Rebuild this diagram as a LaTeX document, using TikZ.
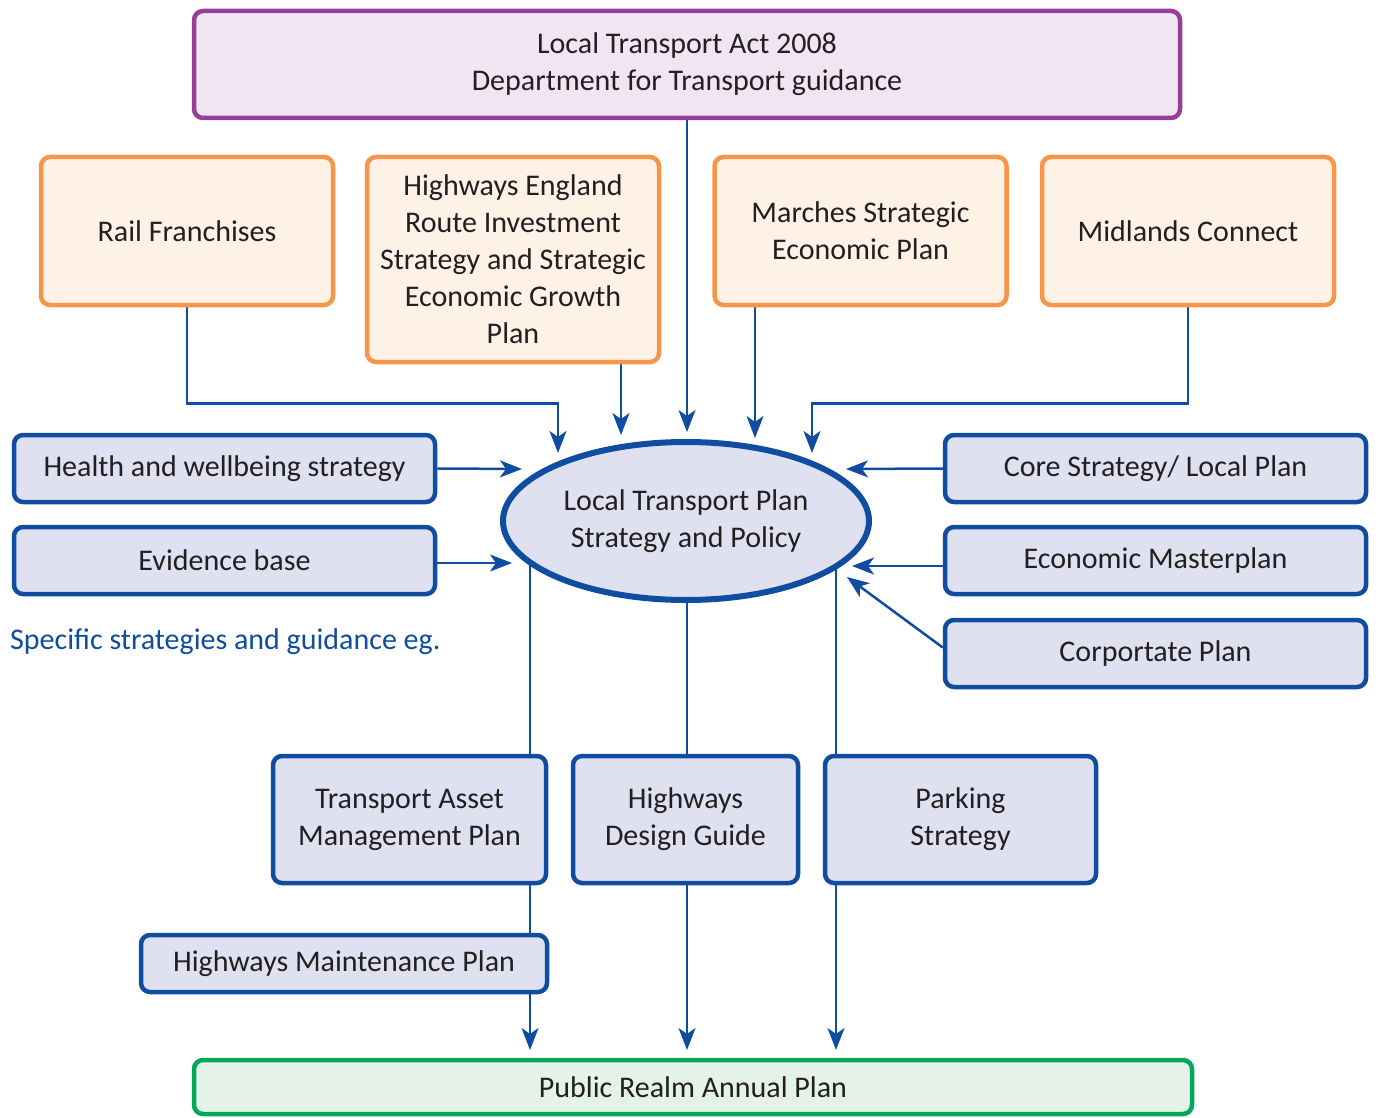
\documentclass[tikz,border=0pt]{standalone}
\usepackage{fontspec}
\setmainfont{Carlito}
\usetikzlibrary{arrows.meta,backgrounds,shapes.geometric}
\definecolor{dblue}{HTML}{104C9F}
\definecolor{bfill}{HTML}{DFE1F1}
\definecolor{ostroke}{HTML}{F7964A}
\definecolor{ofill}{HTML}{FEF1E6}
\definecolor{pstroke}{HTML}{983E96}
\definecolor{pfill}{HTML}{F0E5F2}
\definecolor{gstroke}{HTML}{00A859}
\definecolor{gfill}{HTML}{E4F2EA}
\definecolor{txt}{HTML}{231F20}
\begin{document}
\begin{tikzpicture}[x=1pt,y=-1pt,
  every node/.style={font=\fontsize{30}{37}\selectfont, text=txt, align=center, inner sep=0pt},
  bluebox/.style={draw=dblue, fill=bfill, line width=4.5pt, rounded corners=9pt},
  orangebox/.style={draw=ostroke, fill=ofill, line width=4.5pt, rounded corners=9pt, minimum width=292pt},
  conn/.style={draw=dblue, line width=2.5pt},
  arr/.style={conn, -{Stealth[length=22pt,width=17pt,inset=6pt]}}]
\useasboundingbox (0,0) rectangle (1378,1118);

\node[draw=pstroke, fill=pfill, line width=4.5pt, rounded corners=9pt, minimum width=986pt, minimum height=107pt] (act) at (687,64.5) {Local Transport Act 2008\\Department for Transport guidance};

\node[orangebox, minimum height=148pt] (rail) at (187,231) {Rail Franchises};
\node[orangebox, minimum height=205pt] (he) at (513,259.5) {Highways England\\Route Investment\\Strategy and Strategic\\Economic Growth\\Plan};
\node[orangebox, minimum height=148pt] (marches) at (860.5,231) {Marches Strategic\\Economic Plan};
\node[orangebox, minimum height=148pt] (midl) at (1188,231) {Midlands Connect};

\node[draw=dblue, fill=bfill, line width=6pt, ellipse, minimum width=366pt, minimum height=158pt] (ltp) at (686,521) {Local Transport Plan\\Strategy and Policy};

\node[bluebox, minimum width=421pt, minimum height=67pt] (health) at (224.5,468.5) {Health and wellbeing strategy};
\node[bluebox, minimum width=421pt, minimum height=67pt] (evid) at (224.5,560.5) {Evidence base};
\node[anchor=west, text=dblue] (spec) at (10,642) {Specific strategies and guidance eg.};

\node[bluebox, minimum width=421pt, minimum height=67pt] (core) at (1155.5,468.5) {Core Strategy/ Local Plan};
\node[bluebox, minimum width=421pt, minimum height=67pt] (econ) at (1155.5,560.5) {Economic Masterplan};
\node[bluebox, minimum width=421pt, minimum height=67pt] (corp) at (1155.5,653.5) {Corportate Plan};

\node[bluebox, minimum width=273pt, minimum height=127pt] (tamp) at (409.5,819.5) {Transport Asset\\Management Plan};
\node[bluebox, minimum width=225pt, minimum height=127pt] (hdg) at (685.5,819.5) {Highways\\Design Guide};
\node[bluebox, minimum width=271pt, minimum height=127pt] (park) at (960.5,819.5) {Parking\\Strategy};
\node[bluebox, minimum width=406pt, minimum height=57pt] (hmp) at (344,963.5) {Highways Maintenance Plan};

\node[draw=gstroke, fill=gfill, line width=4.5pt, rounded corners=9pt, minimum width=998pt, minimum height=54pt] (prap) at (693,1087) {Public Realm Annual Plan};

% arrow tips
\coordinate (tAct) at (687,432);
\coordinate (tRail) at (558,453);
\coordinate (tHE) at (621,435);
\coordinate (tMar) at (755,438);
\coordinate (tMid) at (812,453);
\coordinate (tHealth) at (522,469);
\coordinate (tEvid) at (512,563);
\coordinate (tCore) at (846,469);
\coordinate (tEcon) at (852,566);
\coordinate (tCorp) at (847,577);
\coordinate (tA) at (530,1050);
\coordinate (tB) at (687,1050);
\coordinate (tC) at (836,1050);

\begin{scope}[on background layer]
\draw[arr] (act.south -| tAct) -- (tAct);
\draw[arr] (rail.south) -- ++(0,96) -| (tRail);
\draw[arr] (he.south -| tHE) -- (tHE);
\draw[arr] (marches.south -| tMar) -- (tMar);
\draw[arr] (midl.south) -- ++(0,96) -| (tMid);
\draw[arr] (health.east) -- (tHealth);
\draw[arr] (tEvid -| evid.east) -- (tEvid);
\draw[arr] (core.west) -- (tCore);
\draw[arr] (tEcon -| econ.west) -- (tEcon);
\draw[arr] ([yshift=6pt]corp.west) -- (tCorp);
\draw[arr] (ltp.center -| tA) -- (tA);
\draw[arr] (ltp.center -| tB) -- (tB);
\draw[arr] (ltp.center -| tC) -- (tC);
\end{scope}
\end{tikzpicture}
\end{document}
